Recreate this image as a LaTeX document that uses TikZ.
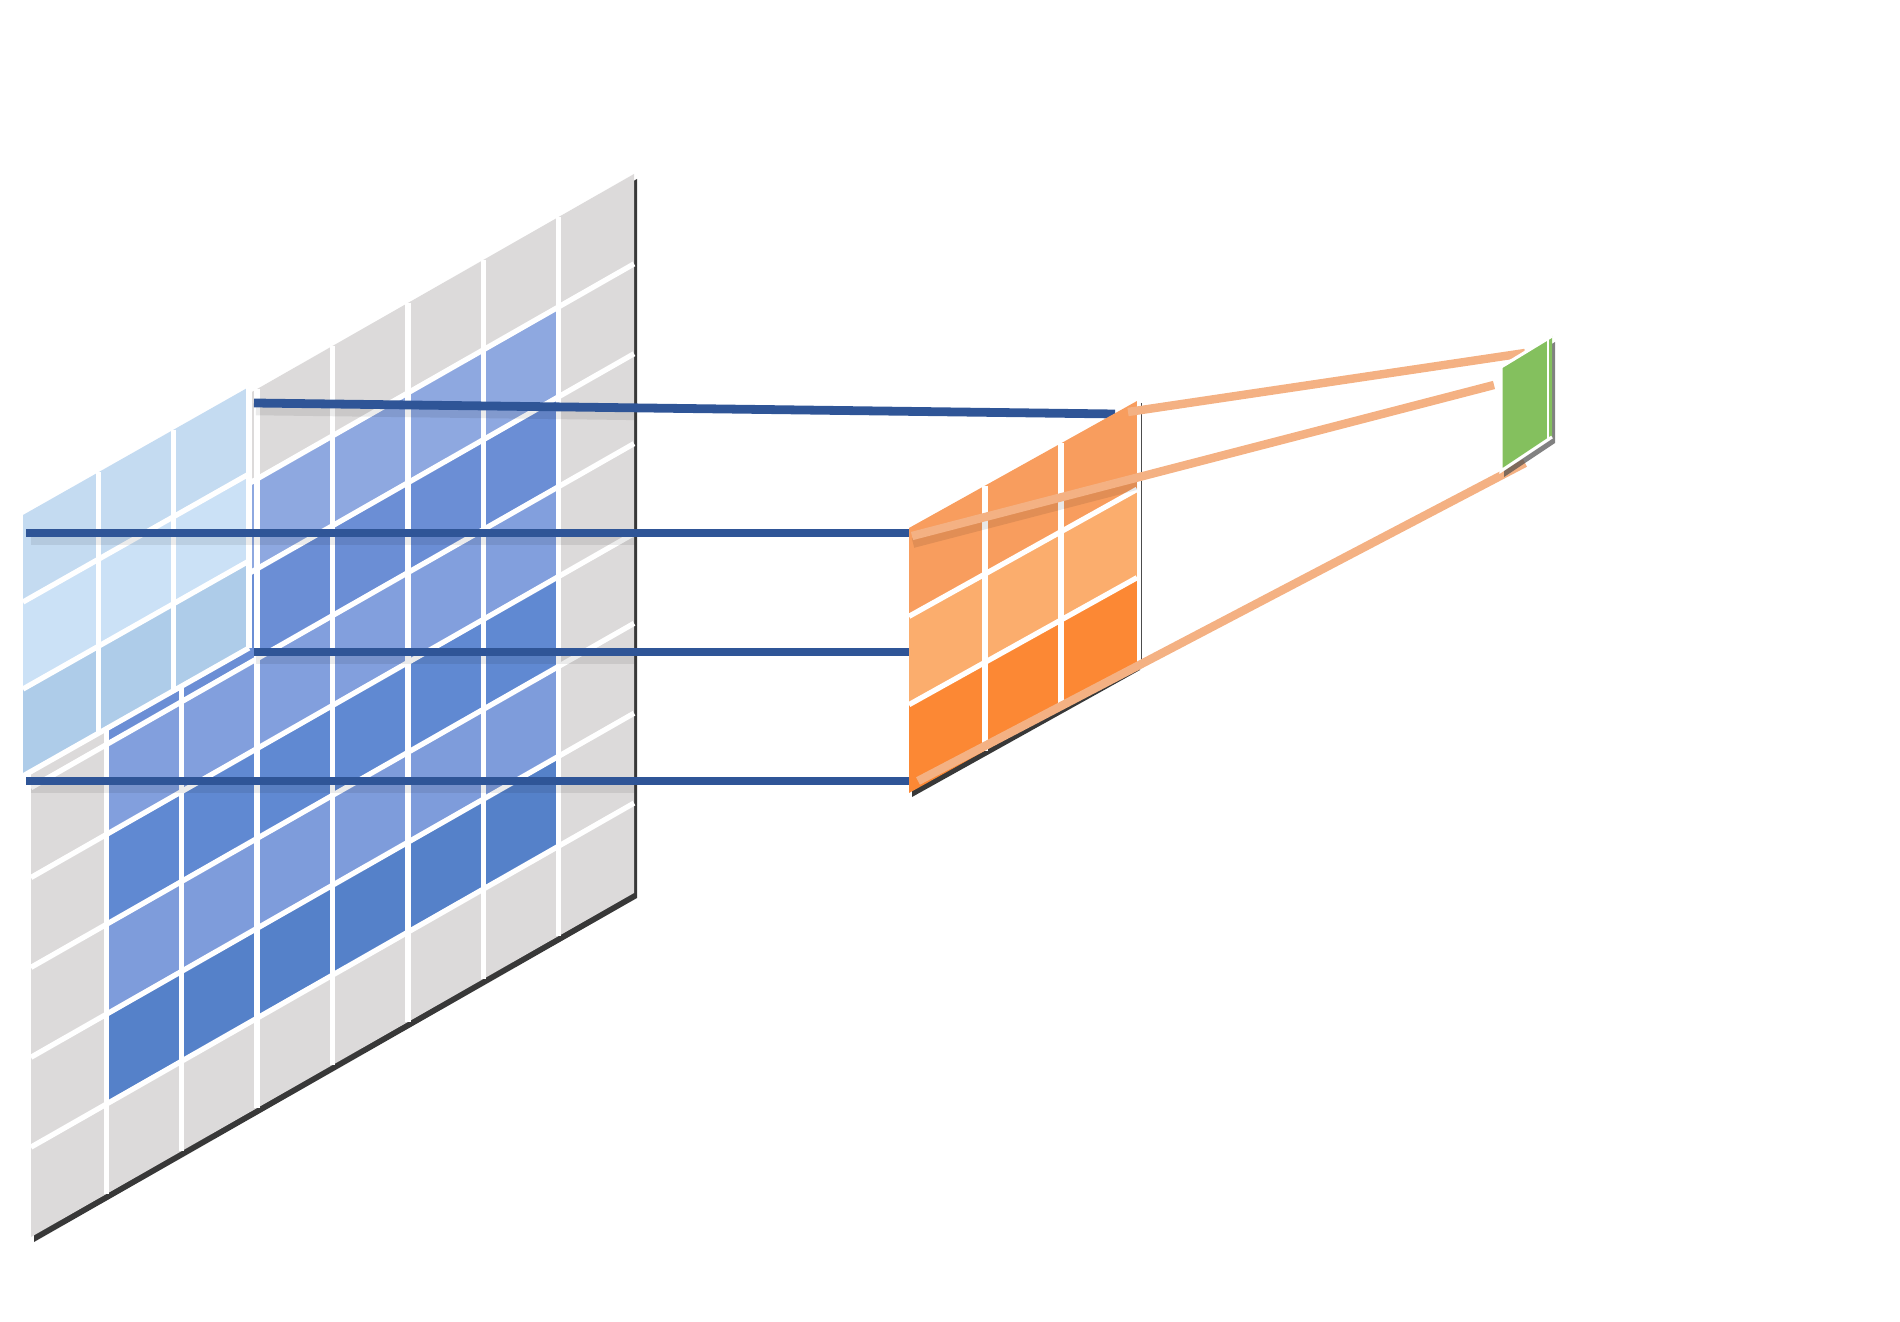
\documentclass[tikz,border=0pt]{standalone}
\usetikzlibrary{calc}
\definecolor{gridgray}{RGB}{220,218,218}
\definecolor{bA}{HTML}{8EA8E0}
\definecolor{bB}{HTML}{6B8ED5}
\definecolor{bC}{HTML}{829FDD}
\definecolor{bD}{HTML}{6089D2}
\definecolor{bE}{HTML}{7E9CDB}
\definecolor{bF}{HTML}{5581C9}
\definecolor{kA}{HTML}{C4DBF1}
\definecolor{kB}{HTML}{CBE1F6}
\definecolor{kC}{HTML}{AECCE9}
\definecolor{oA}{HTML}{F89D5E}
\definecolor{oB}{HTML}{FBAD6D}
\definecolor{oC}{HTML}{FC8834}
\definecolor{linkblue}{HTML}{2F5597}
\definecolor{linkorange}{HTML}{F4B183}
\definecolor{outgreen}{HTML}{84C05E}
\begin{document}
\begin{tikzpicture}[x=0.01cm,y=-0.01cm,
  wline/.style={white,line width=1.5pt},
  bluelink/.style={draw=linkblue,line width=2.5pt},
  bshadow/.style={draw=black,opacity=0.08,line width=3pt},
  orangelink/.style={draw=linkorange,line width=2.4pt},
  planeshadow/.style={fill=black!78},
]
\path[use as bounding box] (0,0) rectangle (1900,1322);

% ---------------- input plane 8x8 ----------------
\def\gx{31}\def\gy{518}\def\gdx{75.375}\def\gdy{-43}\def\gh{89.875}
\coordinate (GTL) at (31,518);
\coordinate (GTR) at (634,174);
\coordinate (GBR) at (634,893);
\coordinate (GBL) at (31,1237);
\fill[planeshadow] ($(GTL)+(3,5)$) -- ($(GTR)+(3,5)$) -- ($(GBR)+(3,5)$) -- ($(GBL)+(3,5)$) -- cycle;
\fill[gridgray] (GTL) -- (GTR) -- (GBR) -- (GBL) -- cycle;
\foreach \j/\c in {1/bA,2/bB,3/bC,4/bD,5/bE,6/bF}
  \foreach \i in {1,...,6}
    \fill[\c] ({\gx+\i*\gdx},{\gy+\i*\gdy+\j*\gh}) -- ++(\gdx,\gdy) -- ++(0,\gh) -- ++(-\gdx,-\gdy) -- cycle;
\foreach \i in {1,...,7}
  \draw[wline] ({\gx+\i*\gdx},{\gy+\i*\gdy}) -- ++(0,{8*\gh});
\foreach \j in {1,...,7}
  \draw[wline] (\gx,{\gy+\j*\gh}) -- ++({8*\gdx},{8*\gdy});

% ---------------- kernel window 3x3 ----------------
\def\kx{23}\def\ky{515}\def\kdx{75.33}\def\kdy{-42.67}\def\kh{87}
\foreach \j/\c in {0/kA,1/kB,2/kC}
  \foreach \i in {0,1,2}
    \fill[\c] ({\kx+\i*\kdx},{\ky+\i*\kdy+\j*\kh}) -- ++(\kdx,\kdy) -- ++(0,\kh) -- ++(-\kdx,-\kdy) -- cycle;
\foreach \i in {1,2,3}
  \draw[wline] ({\kx+\i*\kdx},{\ky+\i*\kdy}) -- ++(0,{3*\kh});
\foreach \j in {1,2,3}
  \draw[wline] (\kx,{\ky+\j*\kh}) -- ++({3*\kdx},{3*\kdy});

% ---------------- blue connectors ----------------
\coordinate (k1) at (254,403); \coordinate (o1) at (1115,414);
\coordinate (k2) at (26,533);  \coordinate (o2) at (909,533);
\coordinate (k3) at (254,652); \coordinate (o3) at (909,652);
\coordinate (k4) at (26,781);  \coordinate (o4) at (909,781);
\begin{scope}
  \clip (GTL) -- (GTR) -- (GBR) -- (GBL) -- cycle;
  \foreach \a/\b in {k1/o1,k2/o2,k3/o3,k4/o4}
    \draw[bshadow] ($(\a)+(2,7)$) -- ($(\b)+(2,7)$);
\end{scope}
\foreach \a/\b in {k1/o1,k2/o2,k3/o3,k4/o4}
  \draw[bluelink] (\a) -- (\b);

% ---------------- feature map 3x3 ----------------
\def\ox{909}\def\oy{528}\def\odx{76}\def\ody{-42.33}\def\oh{88.33}
\coordinate (OTL) at (909,528);
\coordinate (OTR) at (1137,401);
\coordinate (OBR) at (1137,666);
\coordinate (OBL) at (909,793);
\fill[planeshadow] ($(OTL)+(3,4)$) -- ($(OTR)+(3,4)$) -- ($(OBR)+(3,4)$) -- ($(OBL)+(3,4)$) -- cycle;
\foreach \j/\c in {0/oA,1/oB,2/oC}
  \fill[\c] (\ox,{\oy+\j*\oh}) -- ++({3*\odx},{3*\ody}) -- ++(0,\oh) -- ++({-3*\odx},{-3*\ody}) -- cycle;
\foreach \i in {1,2}
  \draw[wline] ({\ox+\i*\odx},{\oy+\i*\ody}) -- ++(0,{3*\oh});
\foreach \j in {1,2}
  \draw[wline] (\ox,{\oy+\j*\oh}) -- ++({3*\odx},{3*\ody});
\draw[black!70,line width=0.35pt] (1141.5,403) -- (1141.5,664);
\draw[white,line width=1.1pt] (1139,401) -- (1139,663);

% ---------------- orange connectors ----------------
\coordinate (oa) at (1128,412); \coordinate (ga) at (1525,353);
\coordinate (ob) at (912,536);  \coordinate (gb) at (1494,385);
\coordinate (oc) at (918,781);  \coordinate (gc) at (1525,463);
\begin{scope}
  \clip (OTL) -- (OTR) -- (OBR) -- (OBL) -- cycle;
  \draw[draw=black,opacity=0.09,line width=2.8pt] ($(ob)+(1,7)$) -- ($(gb)+(1,7)$);
\end{scope}
\draw[orangelink] (oa) -- (ga);
\draw[orangelink] (ob) -- (gb);
\draw[orangelink] (oc) -- (gc);

% ---------------- output cell ----------------
\coordinate (QTL) at (1501,367);
\coordinate (QTR) at (1552,336);
\coordinate (QBR) at (1552,437);
\coordinate (QBL) at (1501,471);
\fill[black!70,opacity=0.7] ($(QTL)+(3,6)$) -- ($(QTR)+(3,6)$) -- ($(QBR)+(3,6)$) -- ($(QBL)+(3,6)$) -- cycle;
\fill[outgreen] (QTL) -- (QTR) -- (QBR) -- (QBL) -- cycle;
\draw[white,line width=0.9pt,line join=miter] (QTR) -- (QTL) -- (QBL) -- (QBR);
\draw[white,line width=0.8pt] (1548,338.5) -- (1548,439.5);
\end{tikzpicture}
\end{document}
